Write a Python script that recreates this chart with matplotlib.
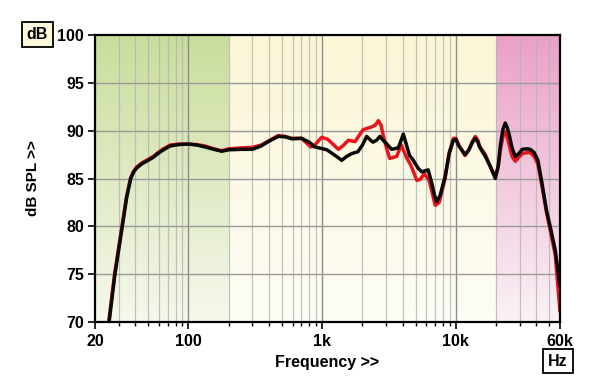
import numpy as np
import matplotlib
matplotlib.use("Agg")
import matplotlib.pyplot as plt
from matplotlib.colors import to_rgb

plt.rcParams['font.family'] = ['Liberation Sans', 'DejaVu Sans']

# ---------------- data ----------------
black_freq = [25.5, 28.2, 32, 34.5, 37, 39, 41, 45, 50, 55, 59, 65, 73, 85, 100, 115, 133, 155,
              177, 200, 250, 300, 350, 400, 470, 530, 593, 700, 800, 880, 980, 1084, 1250,
              1400, 1520, 1660, 1850, 2000, 2150, 2300, 2400, 2550, 2700, 2850, 3000, 3300,
              3700, 3870, 4040, 4250, 4500, 4800, 5200, 5550, 6200, 6600, 6900, 7180, 7600,
              8300, 8900, 9580, 10000, 10500, 11700, 12500, 13300, 13960, 14600, 15000,
              16600, 18000, 19700, 20700, 21500, 22500, 23400, 24200, 25000, 26300, 27800,
              29500, 31300, 34000, 36000, 38500, 41000, 44000, 47500, 51000, 55300, 60000]
black_db = [70, 75, 80, 83, 85, 85.7, 86.1, 86.55, 86.9, 87.25, 87.6, 88.0, 88.4, 88.55, 88.6,
            88.5, 88.3, 88.05, 87.85, 88.0, 88.05, 88.05, 88.4, 88.9, 89.4, 89.35, 89.15,
            89.2, 88.8, 88.3, 88.15, 88.0, 87.4, 86.9, 87.3, 87.6, 87.8, 88.5, 89.4, 89.0,
            88.8, 89.0, 89.4, 89.0, 88.7, 88.05, 88.2, 88.9, 89.65, 88.6, 87.4, 86.9, 86.1,
            85.7, 85.9, 84.5, 83.3, 82.6, 83.2, 85.2, 87.6, 89.0, 89.1, 88.4, 87.5, 88.0,
            88.8, 89.2, 88.8, 88.3, 87.3, 86.3, 85.0, 86.3, 88.5, 90.2, 90.8, 90.3, 89.6,
            88.2, 87.3, 87.6, 88.05, 88.1, 88.05, 87.7, 86.9, 84.5, 81.7, 79.8, 77.5, 73.8]

red_freq = [25.3, 28.0, 31.8, 34.3, 36.8, 39, 41, 45, 50, 55, 59, 65, 73, 85, 100, 115, 133, 155,
            177, 200, 250, 300, 350, 400, 470, 530, 593, 700, 780, 820, 880, 990, 1100, 1200,
            1320, 1450, 1570, 1760, 2020, 2350, 2500, 2630, 2750, 2870, 3050, 3200, 3600, 3900,
            4300, 4600, 5100, 5400, 5800, 6300, 6700, 7000, 7500, 8300, 8900, 9580, 10000,
            10500, 11700, 12500, 13300, 13960, 14600, 15000, 16600, 18000, 19700, 20700,
            21500, 22500, 23400, 24200, 25000, 26300, 27800, 29500, 31300, 34000, 36000,
            38500, 41000, 44000, 47500, 51000, 55300, 60000]
red_db = [70, 75, 80, 83, 85, 85.8, 86.2, 86.65, 87.0, 87.35, 87.7, 88.1, 88.5, 88.6, 88.6,
          88.55, 88.4, 88.1, 87.9, 88.1, 88.2, 88.25, 88.5, 88.95, 89.5, 89.4, 89.2, 89.2,
          88.6, 88.3, 88.5, 89.3, 89.1, 88.6, 88.05, 88.5, 89.0, 88.85, 90.1, 90.4, 90.6,
          91.05, 90.6, 89.4, 88.0, 87.1, 87.3, 88.5, 87.1, 86.4, 84.8, 84.9, 85.5, 84.8,
          83.3, 82.2, 82.5, 85.0, 87.7, 89.2, 89.2, 88.5, 87.4, 88.0, 88.9, 89.4, 89.0,
          88.4, 87.5, 86.3, 85.2, 86.2, 88.0, 89.4, 89.9, 89.3, 88.5, 87.3, 86.8, 87.2,
          87.6, 87.7, 87.7, 87.3, 86.5, 84.2, 81.5, 79.4, 77.0, 71.1]

x_ticks = [20, 100, 1000, 10000, 60000]
x_tick_labels = ['20', '100', '1k', '10k', '60k']
y_ticks = [70, 75, 80, 85, 90, 95, 100]
minor_grid = [30, 40, 50, 60, 70, 80, 90, 200, 300, 400, 500, 600, 700, 800, 900,
              2000, 3000, 4000, 5000, 6000, 7000, 8000, 9000, 20000, 30000, 40000, 50000]
bands = [(20, 200), (200, 20000), (20000, 60000)]
band_top = ['#c9dd9b', '#fbf6d5', '#eaa0c8']
band_bottom = ['#f6f8ec', '#fefdf6', '#fbf2f6']

# ---------------- figure ----------------
fig = plt.figure(figsize=(6.0, 3.89), dpi=100)
ax = fig.add_axes([95/600, 1-322/389, 465/600, 287/389])
ax.set_xscale('log')
ax.set_xlim(20, 60000)
ax.set_ylim(70, 100)

lo, hi = np.log10(20), np.log10(60000)
for (f0, f1), ct, cb in zip(bands, band_top, band_bottom):
    t = np.array(to_rgb(ct)); b = np.array(to_rgb(cb))
    g = np.linspace(0, 1, 256)[:, None]
    img = (t[None, :] * (1 - g) + b[None, :] * g)[:, None, :]
    x0 = (np.log10(f0) - lo) / (hi - lo)
    x1 = (np.log10(f1) - lo) / (hi - lo)
    ax.imshow(img, extent=[x0, x1, 0, 1], transform=ax.transAxes,
              aspect='auto', zorder=0, interpolation='bilinear')

for f in minor_grid:
    ax.axvline(f, color='#b4b4b4', lw=0.9, zorder=1, alpha=0.8)
for f in [100, 1000, 10000]:
    ax.axvline(f, color='#8c8c8c', lw=1.0, zorder=1)
for y in y_ticks[1:-1]:
    ax.axhline(y, color='#9a9a9a', lw=1.0, zorder=1)

ax.plot(red_freq, red_db, color='#e8141c', lw=2.5, zorder=3,
        solid_joinstyle='round', solid_capstyle='round')
ax.plot(black_freq, black_db, color='#0a0a0a', lw=2.5, zorder=4,
        solid_joinstyle='round', solid_capstyle='round')

ax.set_xticks(x_ticks)
ax.set_xticklabels(x_tick_labels)
ax.set_xticks(minor_grid, minor=True)
ax.xaxis.set_minor_formatter(matplotlib.ticker.NullFormatter())
ax.set_yticks(y_ticks)
ax.set_yticklabels([str(v) for v in y_ticks])
ax.tick_params(axis='x', which='major', length=5, width=1.2, pad=4, labelsize=11.5)
ax.tick_params(axis='x', which='minor', length=3, width=1.0)
ax.tick_params(axis='y', length=5, width=1.2, pad=3, labelsize=11.5)
for lab in ax.get_xticklabels() + ax.get_yticklabels():
    lab.set_fontweight('bold')
for s in ax.spines.values():
    s.set_linewidth(1.6)
    s.set_color('black')
    s.set_zorder(5)

fig.text(33/600, 1-178/389, 'dB SPL >>', rotation=90, ha='center', va='center',
         fontsize=11, fontweight='bold')
fig.text(327/600, 1-363/389, 'Frequency >>', ha='center', va='center',
         fontsize=11.5, fontweight='bold')

fig.text(37.5/600, 1-34.5/389, 'dB', ha='center', va='center', fontsize=11.5,
         fontweight='bold',
         bbox=dict(boxstyle='square,pad=0.3', fc='#fdf8dc', ec='black', lw=1.3))
fig.text(558/600, 1-361/389, 'Hz', ha='center', va='center', fontsize=11.5,
         fontweight='bold',
         bbox=dict(boxstyle='square,pad=0.3', fc='white', ec='black', lw=1.3))

fig.savefig('out.png', dpi=100)
